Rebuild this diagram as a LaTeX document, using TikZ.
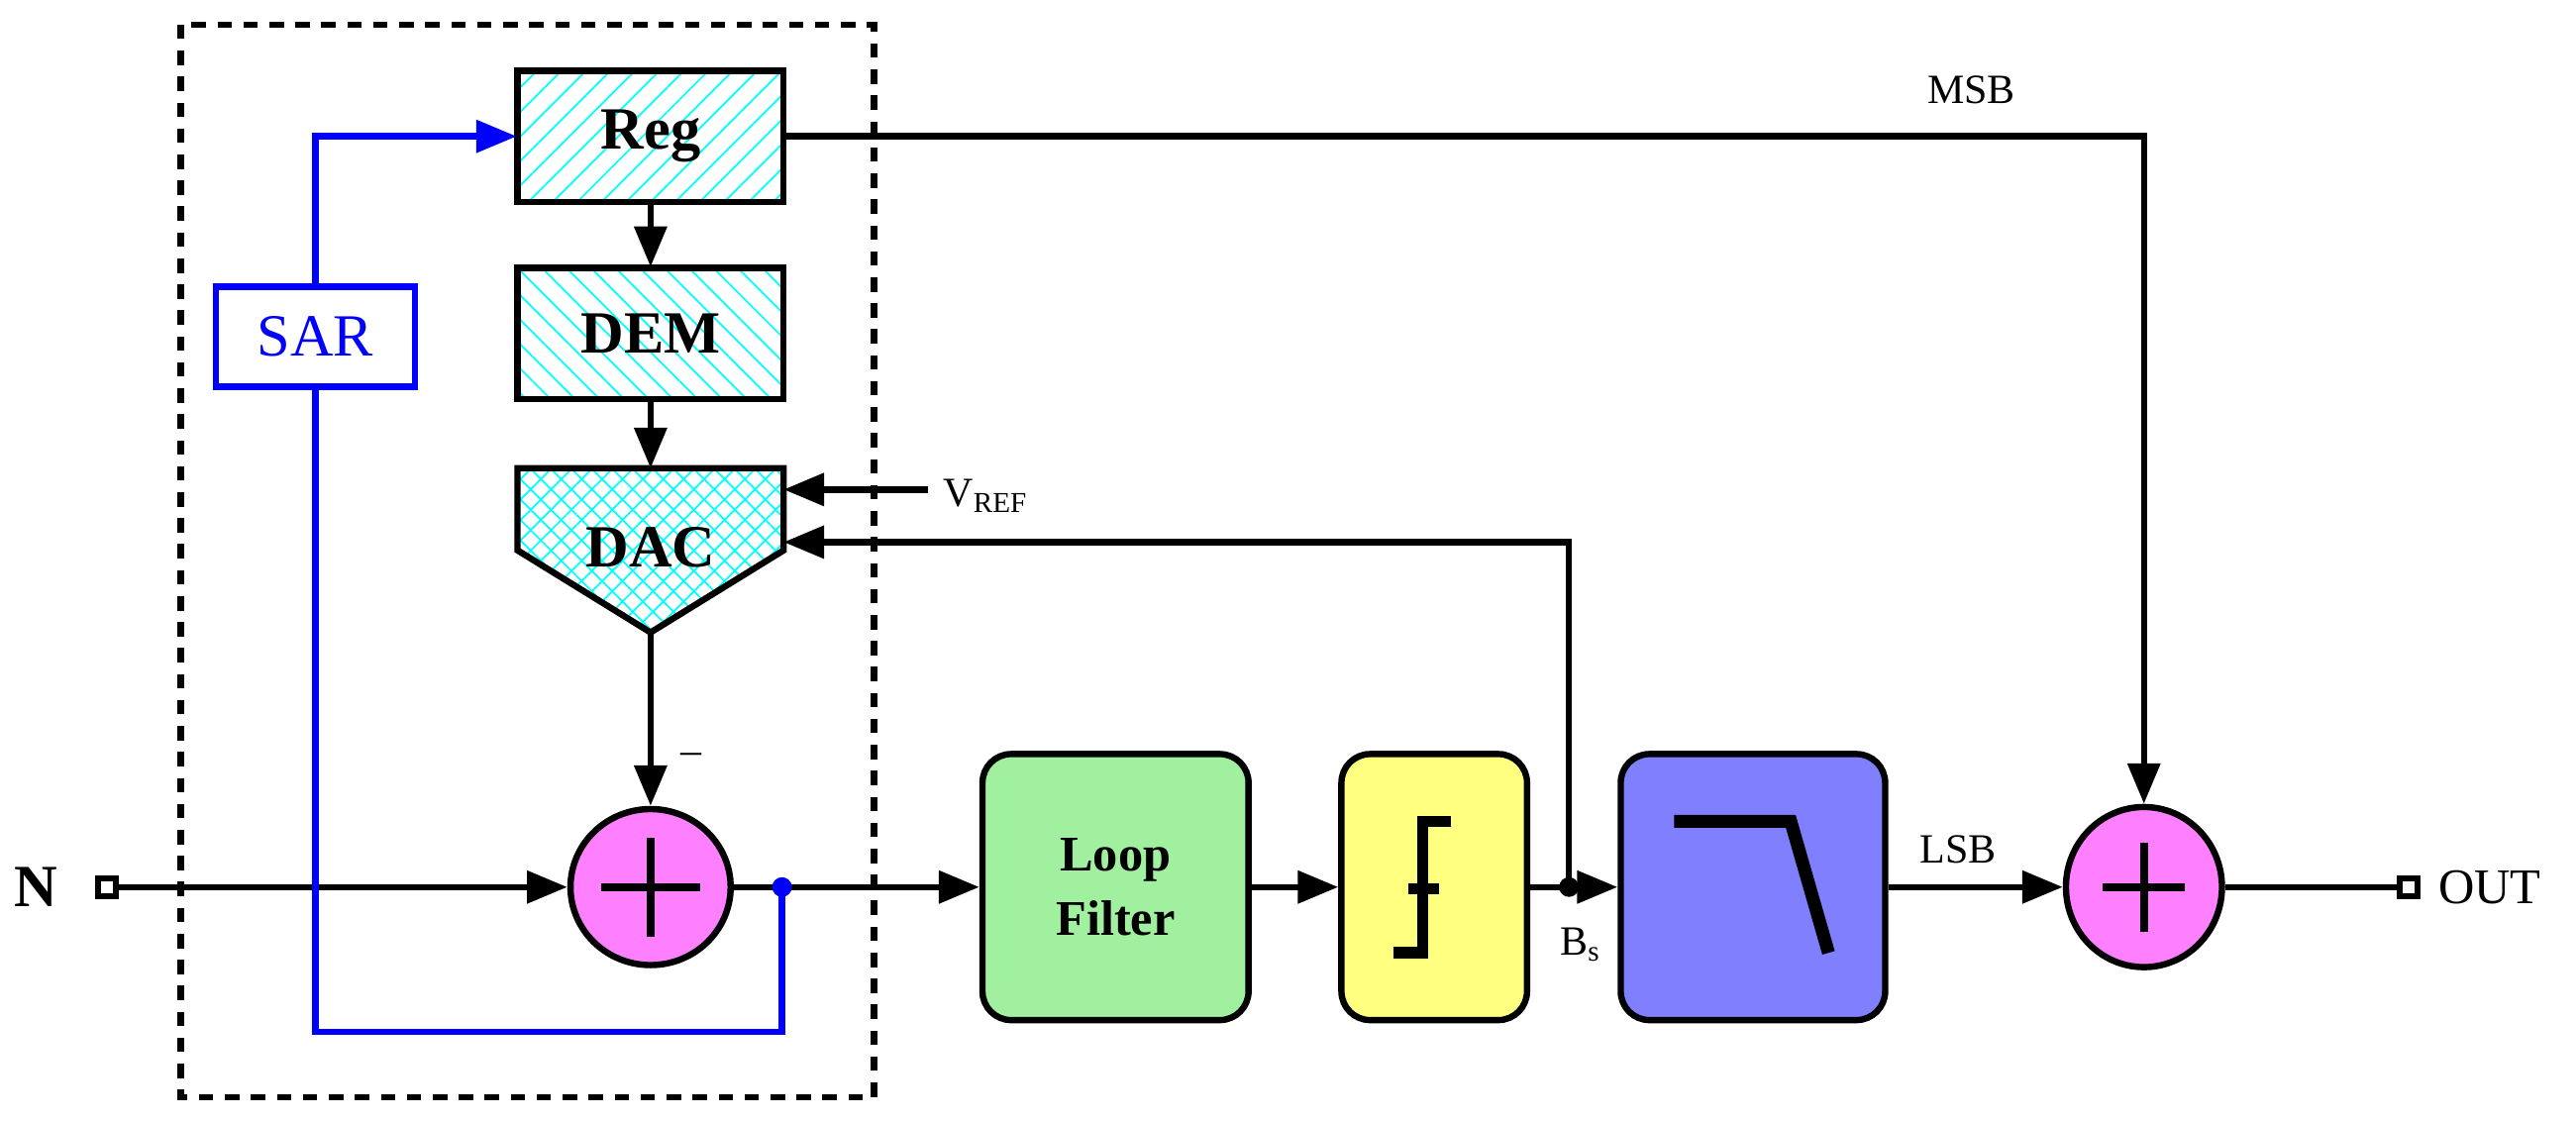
\documentclass[tikz,border=0pt]{standalone}
\usepackage{fontspec}
\setmainfont{Liberation Serif}
\usetikzlibrary{arrows.meta,patterns.meta,shapes.geometric}
\definecolor{pk}{HTML}{FF80FF}
\definecolor{gr}{HTML}{A0F0A0}
\definecolor{yl}{HTML}{FFFF80}
\definecolor{bl}{HTML}{8080FF}
\begin{document}
\begin{tikzpicture}[x=0.02cm,y=-0.02cm,
  ln/.style={line width=2.2pt,line join=miter},
  arr/.style={ln,-{Triangle[length=14pt,width=11pt]}},
  blk/.style={ln,draw=black,minimum width=3.24cm,minimum height=1.6cm,font=\huge\bfseries},
  rblk/.style={ln,draw=black,rounded corners=0.35cm,minimum height=3.24cm,font=\LARGE\bfseries},
  sumn/.style={ln,draw=black,fill=pk,ellipse,minimum width=1.95cm,minimum height=1.9cm},
  port/.style={draw=black,line width=2pt,fill=white,minimum size=0.22cm,inner sep=0pt},
  lbl/.style={font=\Large}
]
\useasboundingbox (0,0) rectangle (1568,683);
\draw[line width=2.2pt,dash pattern=on 5pt off 4pt] (110,15) rectangle (532,668);
\node[blk,pattern={Lines[angle=45,distance=6pt,line width=0.6pt]},pattern color=cyan] (reg) at (396,83) {Reg};
\node[blk,pattern={Lines[angle=-45,distance=6pt,line width=0.6pt]},pattern color=cyan] (dem) at (396,203) {DEM};
\path[pattern={Hatch[angle=45,distance=5pt,line width=0.6pt]},pattern color=cyan] (315,285) -- (477,285) -- (477,335) -- (396,385) -- (315,335) -- cycle;
\draw[ln] (315,285) -- (477,285) -- (477,335) -- (396,385) -- (315,335) -- cycle;
\node[font=\huge\bfseries] (dac) at (396,333) {DAC};
\coordinate (dactop) at (396,285);
\coordinate (dacbot) at (396,385);
\coordinate (dacr1) at (477,298);
\coordinate (dacr2) at (477,330);
\node[sumn] (s1) at (396,540) {};
\draw[line width=2.6pt] (366,540) -- (426,540) (396,510) -- (396,570);
\node[sumn,minimum width=1.9cm,minimum height=1.95cm] (s2) at (1305,540) {};
\draw[line width=2.6pt] (1280,540) -- (1330,540) (1305,513) -- (1305,567);
\node[draw=blue,line width=2.2pt,minimum width=2.42cm,minimum height=1.22cm,text=blue,font=\huge] (sar) at (192,205) {SAR};
\node[rblk,fill=gr,minimum width=3.24cm,align=center] (lf) at (679,540) {Loop\\Filter};
\node[rblk,fill=yl,minimum width=2.26cm] (q) at (873,540) {};
\draw[line width=4pt] (848,580) -- (866,580) -- (866,500) -- (883,500);
\draw[line width=4pt] (857,541) -- (876,541);
\node[rblk,fill=bl,minimum width=3.22cm] (lp) at (1067,540) {};
\draw[line width=4.5pt] (1019,500) -- (1090,500) -- (1113,580);
\node[port] (in) at (65,540) {};
\node[port] (out) at (1466,540) {};
\node[font=\huge\bfseries] at (22,540) {N};
\node[font=\LARGE,anchor=west] at (1478,540) {OUT};
\draw[arr] (in) -- (s1);
\draw[arr] (reg) -- (dem);
\draw[arr] (dem) -- (dactop);
\draw[arr] (dacbot) -- (s1);
\node[lbl] at (421,462) {--};
\coordinate (tap) at (476,540);
\draw[arr] (s1) -- (lf);
\draw[arr] (lf) -- (q);
\coordinate (bs) at (955,540);
\draw[arr] (q) -- (lp);
\fill (bs) circle (6);
\draw[arr] (bs) -- (955,330) -- (dacr2);
\coordinate (vref) at (565,298);
\draw[arr] (vref) -- (dacr1);
\node[anchor=west,font=\Large] at (568,302) {V\textsubscript{REF}};
\node[font=\Large] at (962,575) {B\textsubscript{s}};
\draw[arr] (lp) -- (s2);
\node[lbl] at (1192,517) {LSB};
\draw[arr] (reg.east) -- (1305,83) -- (s2);
\node[lbl] at (1200,55) {MSB};
\draw[ln] (s2) -- (out);
\draw[ln,blue,-{Triangle[length=14pt,width=11pt]}] (sar.north) -- (192,83) -- (reg.west);
\draw[ln,blue] (sar.south) -- (192,628) -- (476,628) -- (tap);
\fill[blue] (tap) circle (6);
\end{tikzpicture}
\end{document}
